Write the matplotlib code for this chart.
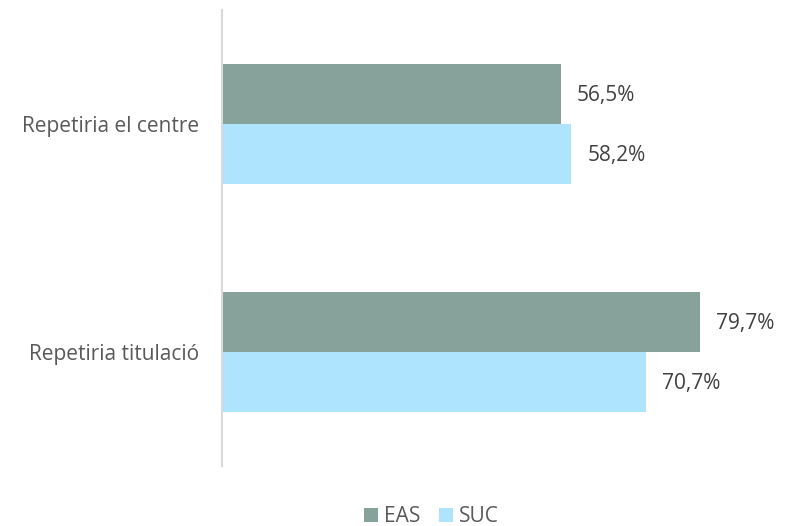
import matplotlib
matplotlib.use("Agg")
import matplotlib.pyplot as plt
import numpy as np

# chart data
categories = ["Repetiria el centre", "Repetiria titulació"]
series_names = ["EAS", "SUC"]
eas_values = [56.5, 79.7]
suc_values = [58.2, 70.7]

colors = {"EAS": "#87A29B", "SUC": "#AEE4FD"}
label_color = "#595959"
value_color = "#404040"

plt.rcParams["font.family"] = ["Open Sans", "DejaVu Sans"]
plt.rcParams["font.size"] = 15

fig = plt.figure(figsize=(7.92, 5.26), dpi=100)
ax = fig.add_axes([222 / 792, 60 / 526, 540 / 792, 456 / 526])

y = np.arange(len(categories))
bar_h = 0.261
offsets = [-bar_h / 2, bar_h / 2]

for name, vals, off in zip(series_names, [eas_values, suc_values], offsets):
    bars = ax.barh(y + off, vals, height=bar_h, color=colors[name],
                   label=name, edgecolor="none")
    for b, v in zip(bars, vals):
        ax.annotate(f"{v:.1f}%".replace(".", ","),
                    xy=(b.get_width(), b.get_y() + b.get_height() / 2),
                    xytext=(11.5, -1), textcoords="offset points",
                    va="center", ha="left", color=value_color, fontsize=15)

ax.set_xlim(0, 90)
ax.set_ylim(1.5, -0.5)
ax.set_yticks(y)
ax.set_yticklabels(categories, color=label_color)
ax.tick_params(axis="y", length=0, pad=16.5)
ax.set_xticks([])

for side in ["top", "right", "bottom"]:
    ax.spines[side].set_visible(False)
ax.spines["left"].set_color("#D9D9D9")
ax.spines["left"].set_linewidth(1.5)

leg = fig.legend(loc="center", bbox_to_anchor=(431.5 / 792, 1 - 517 / 526),
                 ncol=2, frameon=False, handlelength=0.67, handleheight=0.67,
                 handletextpad=0.29, columnspacing=0.87, borderpad=0,
                 fontsize=15)
for t in leg.get_texts():
    t.set_color(label_color)

fig.savefig("out.png", dpi=100)
